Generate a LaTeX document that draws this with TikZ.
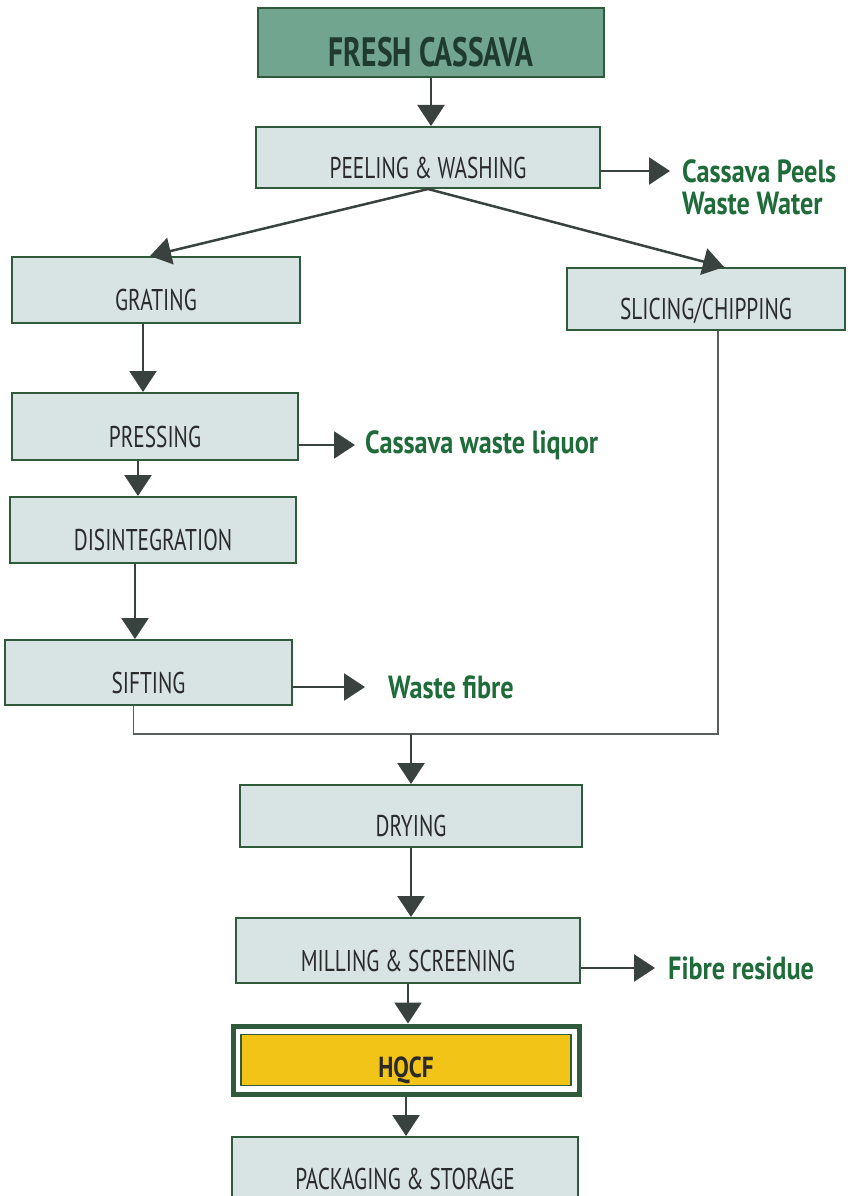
\documentclass[tikz,border=0pt]{standalone}
\usepackage{fontspec}
\setmainfont[FakeStretch=0.71]{PT Sans}
\newfontfamily\labfont[FakeStretch=0.82]{PT Sans}
\newfontfamily\freshfont[FakeStretch=0.72]{PT Sans}
\newfontfamily\hqfont[FakeStretch=0.8]{PT Sans}
\usetikzlibrary{arrows.meta,calc}
\definecolor{boxfill}{HTML}{D8E3E3}
\definecolor{boxline}{HTML}{2F5A3C}
\definecolor{freshfill}{HTML}{72A58F}
\definecolor{freshtext}{HTML}{1F3B30}
\definecolor{arrowc}{HTML}{39423F}
\definecolor{labelgreen}{HTML}{1F6B3A}
\definecolor{hqyellow}{HTML}{F2C417}
\definecolor{boxtext}{HTML}{2A2A2A}
\begin{document}
\begin{tikzpicture}[x=1pt,y=-1pt,
  stepbox/.style={draw=boxline, line width=2pt, fill=boxfill, inner sep=0pt,
    font=\fontsize{30}{32}\selectfont, text=boxtext, text height=41pt, text depth=0pt},
  arr/.style={draw=arrowc, line width=2.5pt, -{Triangle[width=27pt,length=21pt]}},
  wastelabel/.style={anchor=west, inner ysep=0pt, text=labelgreen,
    font=\labfont\bfseries\fontsize{32}{34}\selectfont},
  merge/.style={draw=arrowc!85, line width=1.5pt}]
\useasboundingbox (0,0) rectangle (848,1196);
\fill[white] (0,0) rectangle (848,1196);

% boxes
\node[stepbox, fill=freshfill, text=freshtext, font=\freshfont\bfseries\fontsize{41}{44}\selectfont,
  text height=48pt, minimum width=346pt, minimum height=69pt] (fresh) at (431,42.5) {FRESH CASSAVA};
\node[stepbox, minimum width=344pt, minimum height=61pt] (peel) at (428,157.5) {PEELING \& WASHING};
\node[stepbox, minimum width=288pt, minimum height=66pt] (grat) at (156,290) {GRATING};
\node[stepbox, minimum width=278pt, minimum height=62pt] (slic) at (706,299) {SLICING/CHIPPING};
\node[stepbox, minimum width=286pt, minimum height=67pt] (press) at (155,426.5) {PRESSING};
\node[stepbox, minimum width=286pt, minimum height=66pt] (disint) at (153,530) {DISINTEGRATION};
\node[stepbox, minimum width=287pt, minimum height=65pt] (sift) at (148.5,672.5) {SIFTING};
\node[stepbox, minimum width=342pt, minimum height=62pt] (dry) at (411,816) {DRYING};
\node[stepbox, minimum width=344pt, minimum height=65pt] (mill) at (408,950.5) {MILLING \& SCREENING};
\node[draw=boxline, line width=5pt, fill=white, minimum width=346pt, minimum height=68pt, inner sep=0pt] (hqcf) at (406,1060) {};
\node[draw=boxline, line width=1.5pt, fill=hqyellow, minimum width=330pt, minimum height=51pt, inner sep=0pt,
  font=\hqfont\bfseries\fontsize{29}{31}\selectfont, text=boxtext, text height=34pt, text depth=0pt] (hqin) at (hqcf.center) {HQCF};
\node[stepbox, minimum width=346pt, minimum height=66pt, text height=38pt] (pack) at (405,1170) {PACKAGING \& STORAGE};

% waste labels (west anchor = arrow tip)
\node[wastelabel, inner xsep=12pt] (peels) at (670,171) {Cassava Peels};
\node[wastelabel, inner xsep=0pt] (water) at (682,204) {Waste Water};
\node[wastelabel, inner xsep=10pt] (liquor) at (355,445) {Cassava waste liquor};
\node[wastelabel, inner xsep=23pt] (fibre) at (365,687) {Waste fibre};
\node[wastelabel, inner xsep=13pt] (resid) at (655,968) {Fibre residue};

% main arrows
\draw[arr] (fresh.south) -- (fresh.south |- peel.north);
\draw[arr] (peel.south) -- ([xshift=-6]grat.north);
\draw[arr] (peel.south) -- ([xshift=18]slic.north);
\draw[arr] ([xshift=-13]grat.south) -- ([xshift=-13]grat.south |- press.north);
\draw[arr] ([xshift=-17]press.south) -- ([xshift=-17]press.south |- disint.north);
\draw[arr] ([xshift=-18]disint.south) -- ([xshift=-18]disint.south |- sift.north);
\coordinate (mj) at (411,734);
\draw[merge] ([xshift=-15]sift.south) |- (mj) -| ([xshift=12]slic.south);
\draw[arr] (mj) -- (dry.north);
\draw[arr] (dry.south) -- (dry.south |- mill.north);
\draw[arr] (mill.south) -- (mill.south |- hqcf.north);
\draw[arr] (hqcf.south) -- (hqcf.south |- pack.north);

% side arrows
\draw[arr] (peel.east |- peels.west) -- (peels.west);
\draw[arr] (press.east |- liquor.west) -- (liquor.west);
\draw[arr] (sift.east |- fibre.west) -- (fibre.west);
\draw[arr] (mill.east |- resid.west) -- (resid.west);
\end{tikzpicture}
\end{document}
